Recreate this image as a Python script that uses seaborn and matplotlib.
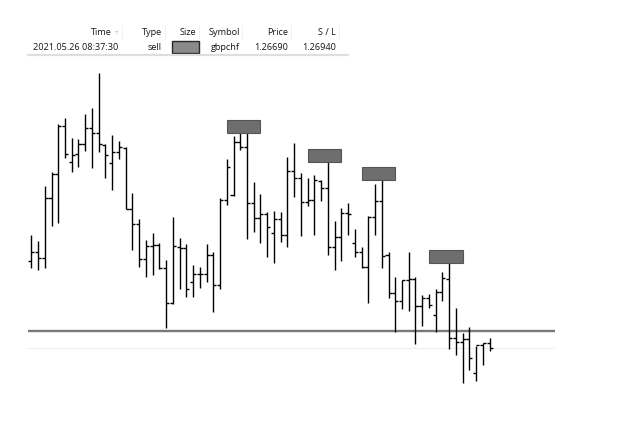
import matplotlib
matplotlib.use("Agg")
import numpy as np
import pandas as pd
import seaborn as sns
import matplotlib.pyplot as plt
from matplotlib.patches import Rectangle

# ---------------- data ----------------
opens = [1.26760, 1.26769, 1.26763, 1.26823, 1.26847, 1.26895, 1.26859, 1.26867, 1.26877, 1.26893,
         1.26888, 1.26876, 1.26858, 1.26869, 1.26873, 1.26812, 1.26797, 1.26762, 1.26775, 1.26776,
         1.26753, 1.26718, 1.26774, 1.26773, 1.26739, 1.26747, 1.26747, 1.26766, 1.26736, 1.26821,
         1.26826, 1.26879, 1.26874, 1.26818, 1.26803, 1.26807, 1.26788, 1.26802, 1.26786, 1.26850,
         1.26843, 1.26819, 1.26821, 1.26840, 1.26833, 1.26774, 1.26784, 1.26808, 1.26778, 1.26769,
         1.26754, 1.26804, 1.26820, 1.26766, 1.26728, 1.26720, 1.26741, 1.26742, 1.26715, 1.26723,
         1.26706, 1.26729, 1.26742, 1.26683, 1.26679, 1.26682, 1.26648, 1.26676, 1.26678]
highs = [1.26786, 1.26780, 1.26835, 1.26849, 1.26897, 1.26903, 1.26883, 1.26882, 1.26907, 1.26913,
         1.26948, 1.26877, 1.26886, 1.26880, 1.26874, 1.26828, 1.26802, 1.26781, 1.26788, 1.26778,
         1.26761, 1.26804, 1.26783, 1.26777, 1.26756, 1.26754, 1.26777, 1.26769, 1.26823, 1.26862,
         1.26885, 1.26893, 1.26888, 1.26839, 1.26827, 1.26809, 1.26810, 1.26809, 1.26864, 1.26878,
         1.26848, 1.26843, 1.26846, 1.26841, 1.26859, 1.26800, 1.26813, 1.26818, 1.26792, 1.26774,
         1.26805, 1.26837, 1.26841, 1.26769, 1.26744, 1.26741, 1.26769, 1.26744, 1.26726, 1.26727,
         1.26732, 1.26749, 1.26758, 1.26713, 1.26688, 1.26694, 1.26675, 1.26678, 1.26683]
lows = [1.26753, 1.26751, 1.26753, 1.26795, 1.26798, 1.26863, 1.26849, 1.26854, 1.26870, 1.26853,
        1.26869, 1.26843, 1.26831, 1.26862, 1.26812, 1.26771, 1.26754, 1.26744, 1.26746, 1.26752,
        1.26693, 1.26717, 1.26732, 1.26724, 1.26724, 1.26733, 1.26739, 1.26709, 1.26732, 1.26816,
        1.26825, 1.26871, 1.26782, 1.26789, 1.26778, 1.26764, 1.26758, 1.26779, 1.26774, 1.26824,
        1.26785, 1.26815, 1.26786, 1.26820, 1.26766, 1.26751, 1.26760, 1.26786, 1.26764, 1.26753,
        1.26718, 1.26786, 1.26753, 1.26723, 1.26689, 1.26712, 1.26710, 1.26677, 1.26695, 1.26713,
        1.26689, 1.26720, 1.26672, 1.26666, 1.26638, 1.26651, 1.26640, 1.26656, 1.26670]
closes = [1.26769, 1.26763, 1.26823, 1.26847, 1.26895, 1.26867, 1.26866, 1.26877, 1.26893, 1.26888,
          1.26877, 1.26866, 1.26869, 1.26874, 1.26812, 1.26797, 1.26762, 1.26775, 1.26776, 1.26753,
          1.26718, 1.26775, 1.26773, 1.26732, 1.26747, 1.26747, 1.26766, 1.26736, 1.26821, 1.26854,
          1.26879, 1.26874, 1.26818, 1.26803, 1.26807, 1.26794, 1.26802, 1.26786, 1.26850, 1.26843,
          1.26819, 1.26821, 1.26841, 1.26833, 1.26774, 1.26784, 1.26808, 1.26807, 1.26769, 1.26754,
          1.26804, 1.26820, 1.26765, 1.26728, 1.26720, 1.26741, 1.26742, 1.26715, 1.26723, 1.26716,
          1.26729, 1.26743, 1.26683, 1.26679, 1.26682, 1.26663, 1.26676, 1.26678, 1.26673]
signal_bars = [32, 44, 52, 62]
entry_price = 1.26690
bid_line = 1.26673

table_headers = ["Time", "Type", "Size", "Symbol", "Price", "S / L"]
table_row = ["2021.05.26 08:37:30", "sell", "", "gbpchf", "1.26690", "1.26940"]

# ---------------- style ----------------
sns.set_theme(style="white")
plt.rcParams["font.family"] = ["Open Sans", "DejaVu Sans"]

df = pd.DataFrame({"open": opens, "high": highs, "low": lows, "close": closes})
df["idx"] = np.arange(len(df))

W, H = 625, 445
fig = plt.figure(figsize=(W / 100, H / 100), dpi=100)
fig.patch.set_facecolor("white")

def fx(px):
    return px / W

def fy(py):
    return 1 - py / H

ax = fig.add_axes([fx(28), fy(395), (555 - 28) / W, (395 - 65) / H])
ax.set_facecolor("white")
ax.set_xlim(-0.49, 77.7)
ax.set_ylim(1.26626, 1.26956)
ax.set_axis_off()

# reference lines
ax.axhline(bid_line, color="#eeeeee", lw=0.8, zorder=1)
ax.axhline(entry_price, color="#787878", lw=1.7, zorder=2)

# OHLC bars
tick = 0.45
lw = 1.0
ax.vlines(df["idx"], df["low"], df["high"], color="black", lw=lw, zorder=3)
ax.hlines(df["open"], df["idx"] - tick, df["idx"], color="black", lw=lw, zorder=3)
ax.hlines(df["close"], df["idx"], df["idx"] + tick, color="black", lw=lw, zorder=3)

# signal boxes
box_h = 0.000133
for i in signal_bars:
    ax.add_patch(Rectangle((i - 3, df["high"][i]), 5, box_h,
                           facecolor="#6e6e6e", edgecolor="#555555", lw=0.8, zorder=4))

# ---------------- table header ----------------
txt_col = "#151515"
fs = 6.6
head_right = [112, 162.5, 196, 239.5, 288, 335.5]
row_right = [118.5, 161.7, None, 239.5, 288, 336]
for t, xr in zip(table_headers, head_right):
    fig.text(fx(xr), fy(32.5), t, ha="right", va="center", fontsize=fs, color=txt_col)
fig.text(fx(114.5), fy(32), "\u25bf", ha="left", va="center", fontsize=4.5,
         color="#b0b0b0", family="DejaVu Sans")
for t, xr in zip(table_row, row_right):
    if xr is not None and t:
        fig.text(fx(xr), fy(47), t, ha="right", va="center", fontsize=fs, color=txt_col)

for sx in [121.7, 165, 199.3, 242.3, 291, 339.3]:
    fig.add_artist(plt.Line2D([fx(sx), fx(sx)], [fy(25), fy(39)],
                              color="#f0f0f0", lw=0.7))
fig.add_artist(Rectangle((fx(172), fy(53.3)), (199 - 172) / W, 12.6 / H,
                         facecolor="#8a8a8a", edgecolor="#2a2a2a", lw=1.0,
                         transform=fig.transFigure))
fig.add_artist(plt.Line2D([fx(28), fx(348)], [fy(54.8), fy(54.8)],
                          color="#dedede", lw=1.6))

fig.savefig("out.png", dpi=100)
